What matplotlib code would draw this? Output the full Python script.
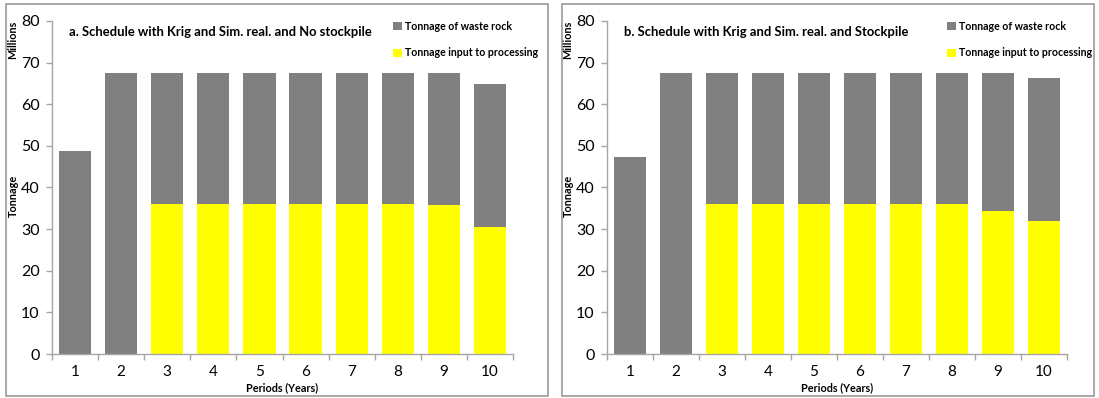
import numpy as np
import matplotlib.pyplot as plt
from matplotlib.patches import Rectangle

# ========== data ==========
periods = ['1', '2', '3', '4', '5', '6', '7', '8', '9', '10']
total_a = [48.7, 67.5, 67.5, 67.5, 67.5, 67.5, 67.5, 67.5, 67.5, 64.9]
ore_a = [0, 0, 36.0, 36.0, 36.0, 36.0, 36.0, 36.0, 35.8, 30.6]
total_b = [47.3, 67.5, 67.5, 67.5, 67.5, 67.5, 67.5, 67.5, 67.5, 66.3]
ore_b = [0, 0, 36.0, 36.0, 36.0, 36.0, 36.0, 36.0, 34.4, 32.0]
titles = ['a. Schedule with Krig and Sim. real. and No stockpile',
          'b. Schedule with Krig and Sim. real. and Stockpile']
yticks = [0, 10, 20, 30, 40, 50, 60, 70, 80]

GREY = '#808080'
YELLOW = '#FFFF00'
AXC = '#A6A6A6'

plt.rcParams['font.family'] = ['Lato', 'DejaVu Sans']

W, H = 1099, 398
fig = plt.figure(figsize=(W / 100, H / 100), dpi=100)


def px_axes(x0, x1, y0, y1):
    return fig.add_axes([x0 / W, 1 - y1 / H, (x1 - x0) / W, (y1 - y0) / H])


def draw_panel(ax, total, ore, title, frame_x0, frame_x1):
    # panel frame like an excel chart area
    fig.patches.append(Rectangle((frame_x0 / W, 2 / H), (frame_x1 - frame_x0) / W, (H - 6) / H,
                                 transform=fig.transFigure, fill=False, edgecolor='#9A9A9A',
                                 linewidth=1.2))
    x = np.arange(1, len(periods) + 1)
    waste = np.array(total) - np.array(ore)
    ax.bar(x, ore, width=0.7, color=YELLOW, label='Tonnage input to processing', zorder=2)
    ax.bar(x, waste, width=0.7, bottom=ore, color=GREY, label='Tonnage of waste rock', zorder=2)
    ax.set_xlim(0.5, len(periods) + 0.5)
    ax.set_ylim(0, 80)
    ax.set_yticks(yticks)
    ax.set_yticklabels([str(v) for v in yticks], fontsize=11.5)
    ax.set_xticks(x)
    ax.set_xticklabels(periods, fontsize=11)
    ax.set_xticks(np.arange(0.5, len(periods) + 1), minor=True)
    ax.tick_params(axis='x', which='major', length=0, pad=8)
    ax.tick_params(axis='x', which='minor', length=4, color=AXC, width=1)
    ax.tick_params(axis='y', length=4, color=AXC, width=1, pad=5)
    for s in ['top', 'right']:
        ax.spines[s].set_visible(False)
    for s in ['left', 'bottom']:
        ax.spines[s].set_color(AXC)
        ax.spines[s].set_linewidth(1)
    ax.set_xlabel('Periods (Years)', fontsize=7.8, fontweight='bold', labelpad=2)
    ax.set_ylabel('Tonnage', fontsize=7.8, fontweight='bold')
    ax.yaxis.set_label_coords(-0.072, 0.475)
    ax.text(-0.085, 1.0, 'Millions', transform=ax.transAxes, rotation=90, fontsize=7.8,
            fontweight='bold', ha='center', va='top')
    ax.text(0.037, 0.985, title, transform=ax.transAxes, fontsize=9.4, fontweight='bold',
            ha='left', va='top')
    handles, labels = ax.get_legend_handles_labels()
    ax.legend(handles[::-1], labels[::-1], loc='upper right', bbox_to_anchor=(1.075, 1.03),
              frameon=False, prop={'weight': 'bold', 'size': 7.6},
              handlelength=0.8, handleheight=0.8, handletextpad=0.3, labelspacing=1.5)


ax_a = px_axes(52, 513, 21, 354)
ax_b = px_axes(607, 1067, 21, 354)
draw_panel(ax_a, total_a, ore_a, titles[0], 6, 548)
draw_panel(ax_b, total_b, ore_b, titles[1], 562, 1094)

fig.savefig('out.png', dpi=100)
